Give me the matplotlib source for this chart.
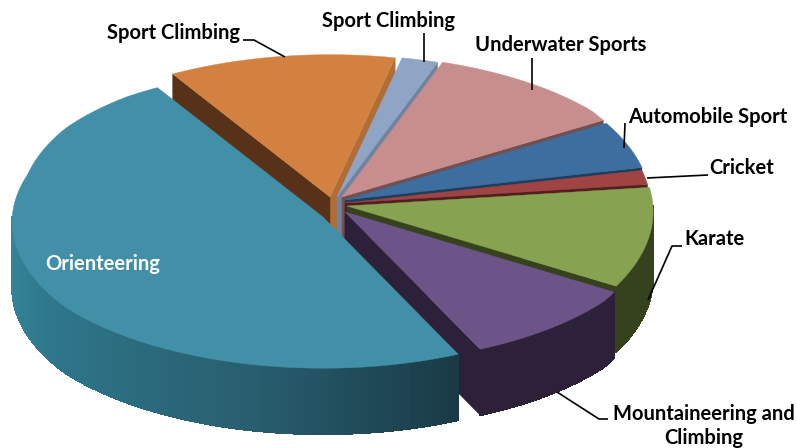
import numpy as np
import matplotlib
matplotlib.use("Agg")
from matplotlib import pyplot as plt
from matplotlib.colors import LinearSegmentedColormap
from matplotlib.patches import Polygon

# slices, counter clockwise starting at the lower right
categories = ["Mountaineering and\nClimbing", "Karate", "Cricket", "Automobile Sport",
              "Underwater Sports", "Sport Climbing", "Sport Climbing", "Orienteering"]
shares = [9.1, 11.2, 1.6, 5.3, 10.7, 1.9, 11.9, 48.3]

top_colors = ["#6c5489", "#87a250", "#a04443", "#3c6e9f", "#c88d8d", "#8fa5c6", "#d38140", "#4190a8"]
wall_colors = ["#2c2139", "#36421e", "#521f20", "#1f3d5c", "#724f50", "#6f829e", "#b16d36", "#35889c"]

# how far each slice is pulled out of the middle, pixels
slice_dx = [3, 5, 3, 3, 0, -5, -12, -19]
slice_dy = [8, 2, -1, -4, -7, -7, -7, 13]
# the teal slice reaches further up on the left than the rest
slice_stretch = [0, 0, 0, 0, 0, 0, 0, 0.05]

cx, cy = 342, 204
rx, ry = 322, 149
depth = 66
start_angle = -65.5

fig = plt.figure(figsize=(7.97, 4.48), dpi=100)
ax = fig.add_axes([0, 0, 1, 1])
ax.set_xlim(0, 797)
ax.set_ylim(448, 0)
ax.axis("off")

teal_wall = LinearSegmentedColormap.from_list("teal_wall", ["#35889c", "#2e7488", "#285f70", "#1a3a45"])


def rim(tx, ty, t, stretch=0):
    # point on the slice edge, top is squeezed a bit for the perspective
    s = 0.985 - 0.03 * np.sin(t)
    s = s - 0.035 * np.clip((np.cos(t) - 0.8) / 0.2, 0, 1)
    s = s - 0.02 * np.clip((-np.cos(t) - 0.8) / 0.2, 0, 1)
    s = s + stretch * np.clip((np.sin(t) - 0.3) / 0.5, 0, 1)
    return tx + rx * s * np.cos(t), ty - ry * s * np.sin(t)


angles = start_angle + np.cumsum([0] + shares) / sum(shares) * 360

# orange first, the teal one is in front of everything
order = [6, 5, 4, 3, 2, 1, 0, 7]
for i in order:
    a0, a1 = np.radians(angles[i]), np.radians(angles[i + 1])
    tx, ty = cx + slice_dx[i], cy + slice_dy[i]
    side_color = wall_colors[i]

    # cut faces
    for a, vis, col in [(a0, np.cos(a0) > 0, side_color), (a1, np.cos(a1) < 0, "#583218")]:
        if vis:
            x, y = rim(tx, ty, a)
            ax.add_patch(Polygon([(tx, ty), (x, y), (x, y + depth), (tx, ty + depth)],
                                 closed=True, fc=col, ec=col, lw=0.3))

    # outside wall, small strips so the teal one can have a gradient
    ts = np.arange(a0, a1 + 0.01, np.radians(1))
    ts = ts[np.sin(ts) < 0.02]
    for j in range(len(ts) - 1):
        x0, y0 = rim(tx, ty, ts[j])
        x1, y1 = rim(tx, ty, min(ts[j + 1], a1))
        if i == 7:
            col = teal_wall((ts[j] - np.radians(180)) / (a1 - np.radians(180)))
        else:
            col = side_color
        ax.add_patch(Polygon([(x0, y0), (x1, y1), (x1, y1 + depth), (x0, y0 + depth)],
                             closed=True, fc=col, ec=col, lw=0.6, antialiased=False))

    # top
    ts = np.linspace(a0, a1, 120)
    xs, ys = rim(tx, ty, ts, slice_stretch[i])
    pts = [(tx, ty)] + list(zip(xs, ys))
    ax.add_patch(Polygon(pts, closed=True, fc=top_colors[i], ec=top_colors[i], lw=0.3))

# leader lines
leaders = [
    [(243, 40), (254, 40), (285, 57)],
    [(424, 33), (424, 62)],
    [(532, 58), (532, 90)],
    [(625, 123), (624, 148)],
    [(647, 178), (708, 175)],
    [(682, 246), (672, 246), (648, 300)],
    [(557, 392), (599, 419), (608, 419)],
]
for line in leaders:
    ax.plot(*zip(*line), color="black", lw=1.2, solid_capstyle="butt")

font = dict(family="Lato", weight="bold", fontsize=14.5, color="black")
ax.text(174, 33, categories[6], ha="center", va="center", **font)
ax.text(389, 21, categories[5], ha="center", va="center", **font)
ax.text(561, 45, categories[4], ha="center", va="center", **font)
ax.text(708, 117, categories[3], ha="center", va="center", **font)
ax.text(742, 168, categories[2], ha="center", va="center", **font)
ax.text(715, 239, categories[1], ha="center", va="center", **font)
ax.text(704, 426, categories[0], ha="center", va="center", linespacing=1.2, **font)
ax.text(103, 264, categories[7], ha="center", va="center", family="Lato", weight="bold",
        fontsize=14.5, color="white")

fig.savefig("out.png", dpi=100)
